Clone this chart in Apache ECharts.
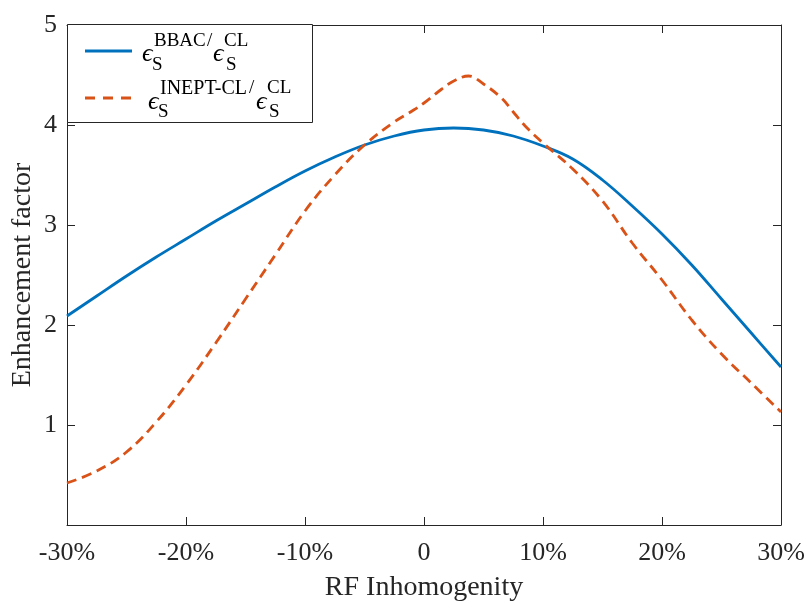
<!DOCTYPE html>
<html>
<head>
<meta charset="utf-8">
<script src="https://cdn.jsdelivr.net/npm/echarts@6/dist/echarts.min.js"></script>
<style>html,body{margin:0;padding:0;background:#fff}#c{width:806px;height:603px}</style>
</head>
<body>
<div id="c"></div>
<script>
// x positions (RF inhomogeneity, %)
const xBBAC = [-30,-27.5,-25,-22.5,-20,-17.5,-15,-12.5,-10,-7.5,-5,-2.5,0,2.5,5,7.5,10,12.5,15,17.5,20,22.5,25,27.5,30];
const yBBAC = [2.09,2.29,2.49,2.68,2.86,3.04,3.21,3.38,3.54,3.68,3.80,3.89,3.95,3.97,3.95,3.89,3.79,3.66,3.45,3.19,2.91,2.60,2.26,1.92,1.58];
const xINEPT = [-30,-27.5,-25,-22.5,-20,-17.5,-15,-12.5,-10,-7.5,-5,-2.5,-1,0,1.5,2.5,3.75,5,6.5,7.5,8.5,10,12.5,15,17.5,20,22.5,25,27.5,30];
const yINEPT = [0.42,0.54,0.73,1.03,1.40,1.82,2.26,2.70,3.14,3.50,3.80,4.03,4.14,4.22,4.36,4.44,4.49,4.41,4.27,4.13,3.99,3.82,3.56,3.24,2.82,2.45,2.05,1.71,1.42,1.13];
const seriesNames = ['BBAC/CL','INEPT-CL/CL'];
const xTickValues = [-30,-20,-10,0,10,20,30];
const xTickLabels = ['-30%','-20%','-10%','0','10%','20%','30%'];
const yTickValues = [0,1,2,3,4,5];
const yTickLabels = ['','1','2','3','4','5'];

const FONT = '"Liberation Serif","DejaVu Serif",serif';
const AX = '#262626';
const BLUE = '#0072BD', ORANGE = '#D95319';
const chart = echarts.init(document.getElementById('c'), null, {renderer:'canvas'});

function pairs(xs, ys){ return xs.map((x,i)=>[x, ys[i]]); }

const baseX = {
  type:'value', min:-30, max:30, interval:10,
  axisLine:{show:true, onZero:false, lineStyle:{color:AX, width:1}},
  axisTick:{show:true, inside:true, length:8, lineStyle:{color:AX}},
  splitLine:{show:false}
};
const baseY = {
  type:'value', min:0, max:5, interval:1,
  axisLine:{show:true, onZero:false, lineStyle:{color:AX, width:1}},
  axisTick:{show:true, inside:true, length:8, lineStyle:{color:AX}},
  splitLine:{show:false}
};

const SUP = '19px '+FONT, SUP2 = '20px '+FONT, EPS = 'italic 26px '+FONT;
function t(x, y, text, font){ return {type:'text', z:6, left:x, top:y, style:{text:text, font:font, fill:'#000'}}; }

const option = {
  animation:false,
  backgroundColor:'#fff',
  grid:{left:67, right:25, top:25, bottom:78, containLabel:false, outerBoundsMode:'none'},
  xAxis:[
    Object.assign({}, baseX, {
      position:'bottom',
      name:'RF Inhomogenity', nameLocation:'middle', nameGap:49,
      nameTextStyle:{fontFamily:FONT, fontSize:28, color:AX},
      axisLabel:{show:true, margin:15, fontFamily:FONT, fontSize:26, color:AX,
        formatter:(v)=>{const i=xTickValues.indexOf(v); return i>=0?xTickLabels[i]:'';}}
    }),
    Object.assign({}, baseX, {position:'top', axisLabel:{show:false}})
  ],
  yAxis:[
    Object.assign({}, baseY, {
      position:'left',
      name:'Enhancement factor', nameLocation:'middle', nameGap:30, nameMoveOverlap:false,
      nameTextStyle:{fontFamily:FONT, fontSize:28, color:AX},
      axisLabel:{show:true, margin:10, fontFamily:FONT, fontSize:26, color:AX,
        formatter:(v)=>{const i=yTickValues.indexOf(v); return i>=0?yTickLabels[i]:'';}}
    }),
    Object.assign({}, baseY, {position:'right', axisLabel:{show:false}})
  ],
  graphic:[
    {type:'rect', z:3, shape:{x:67.5, y:24.5, width:245, height:98}, style:{fill:'#fff', stroke:AX, lineWidth:1}},
    {type:'line', z:5, shape:{x1:85, y1:51, x2:132, y2:51}, style:{stroke:BLUE, lineWidth:2.8}},
    {type:'line', z:5, shape:{x1:85, y1:98, x2:132, y2:98}, style:{stroke:ORANGE, lineWidth:2.8, lineDash:[10,8]}},
    // row 1
    t(142, 41, 'ϵ', EPS),
    t(154, 32, 'BBAC', SUP),
    t(152, 56, 'S', SUP),
    t(207, 32, '/', SUP),
    t(213, 41, 'ϵ', EPS),
    t(224, 32, 'CL', SUP),
    t(226, 56, 'S', SUP),
    // row 2
    t(148, 89, 'ϵ', EPS),
    t(160, 79, 'INEPT-CL', SUP2),
    t(158, 103, 'S', SUP),
    t(249, 79, '/', SUP),
    t(256, 89, 'ϵ', EPS),
    t(267, 79, 'CL', SUP),
    t(269, 103, 'S', SUP)
  ],
  series:[
    {name:seriesNames[0], type:'line', xAxisIndex:0, yAxisIndex:0, data:pairs(xBBAC,yBBAC),
     smooth:0.4, symbol:'none', showSymbol:false,
     lineStyle:{color:BLUE, width:2.8}, itemStyle:{color:BLUE}},
    {name:seriesNames[1], type:'line', xAxisIndex:0, yAxisIndex:0, data:pairs(xINEPT,yINEPT),
     smooth:0.4, symbol:'none', showSymbol:false,
     lineStyle:{color:ORANGE, width:2.8, type:[10,6]}, itemStyle:{color:ORANGE}}
  ]
};
chart.setOption(option);
</script>
</body>
</html>
